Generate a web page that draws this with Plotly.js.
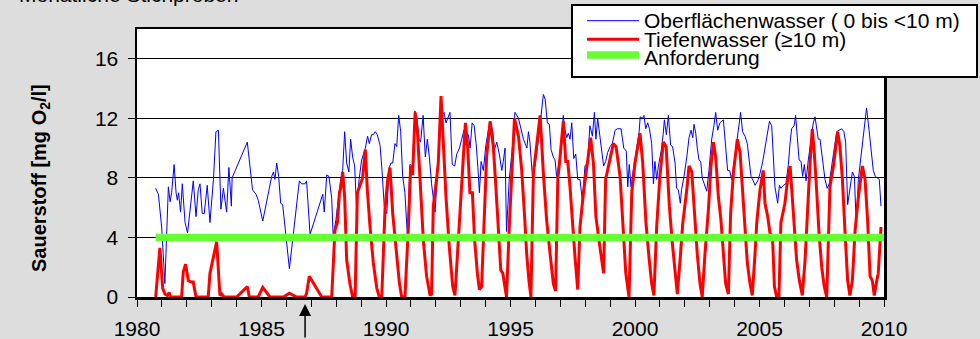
<!DOCTYPE html>
<html><head><meta charset="utf-8">
<script src="https://cdn.plot.ly/plotly-3.0.1.min.js"></script>
<style>html,body{margin:0;padding:0;background:#dddddd;}#chart{width:980px;height:339px;}</style>
</head><body><div id="chart"></div>
<script>
// Oberflächenwasser (0 bis <10 m)
const blueX = [1980.75,1980.86,1980.99,1981.12,1981.26,1981.33,1981.39,1981.49,1981.57,1981.62,1981.67,1981.75,1981.82,1981.93,1982.03,1982.16,1982.26,1982.37,1982.46,1982.53,1982.62,1982.70,1982.82,1982.93,1983.07,1983.17,1983.27,1983.37,1983.47,1983.60,1983.69,1983.79,1983.82,1984.43,1984.54,1984.64,1984.78,1984.87,1985.05,1985.41,1985.48,1985.54,1985.61,1985.69,1985.77,1985.85,1986.12,1986.28,1986.52,1986.61,1986.75,1986.81,1986.95,1987.46,1987.52,1987.62,1987.71,1987.82,1987.88,1987.99,1988.08,1988.18,1988.26,1988.34,1988.42,1988.51,1988.58,1988.66,1988.74,1988.82,1988.92,1989.02,1989.17,1989.26,1989.33,1989.42,1989.49,1989.57,1989.65,1989.76,1989.84,1989.93,1990.03,1990.13,1990.20,1990.27,1990.36,1990.43,1990.51,1990.59,1990.67,1990.76,1990.86,1990.96,1991.07,1991.16,1991.23,1991.33,1991.39,1991.49,1991.58,1991.66,1991.74,1991.83,1991.97,1992.03,1992.14,1992.23,1992.33,1992.41,1992.49,1992.57,1992.66,1992.76,1992.84,1992.95,1993.04,1993.13,1993.21,1993.31,1993.38,1993.46,1993.54,1993.62,1993.69,1993.75,1993.82,1993.91,1994.01,1994.11,1994.21,1994.29,1994.35,1994.45,1994.55,1994.65,1994.71,1994.78,1994.84,1994.95,1995.08,1995.18,1995.32,1995.42,1995.52,1995.61,1995.66,1995.72,1995.78,1995.88,1995.98,1996.09,1996.23,1996.32,1996.39,1996.48,1996.56,1996.63,1996.72,1996.79,1996.85,1996.95,1997.06,1997.12,1997.19,1997.26,1997.32,1997.39,1997.46,1997.54,1997.62,1997.70,1997.79,1997.89,1997.99,1998.09,1998.19,1998.29,1998.37,1998.43,1998.50,1998.58,1998.66,1998.74,1998.82,1998.90,1999.00,1999.09,1999.20,1999.29,1999.44,1999.55,1999.65,1999.71,1999.77,1999.84,1999.93,2000.07,2000.16,2000.21,2000.30,2000.36,2000.43,2000.51,2000.58,2000.67,2000.74,2000.80,2000.87,2000.94,2001.05,2001.13,2001.18,2001.26,2001.34,2001.43,2001.51,2001.61,2001.67,2001.74,2001.82,2001.87,2001.97,2002.08,2002.17,2002.25,2002.32,2002.37,2002.44,2002.50,2002.57,2002.64,2002.70,2002.78,2002.88,2002.97,2003.08,2003.17,2003.24,2003.32,2003.41,2003.55,2003.64,2003.72,2003.80,2003.88,2003.98,2004.08,2004.15,2004.24,2004.32,2004.42,2004.51,2004.59,2004.66,2004.75,2004.82,2004.93,2005.02,2005.13,2005.22,2005.33,2005.40,2005.49,2005.57,2005.62,2005.73,2005.80,2005.86,2005.96,2006.06,2006.16,2006.23,2006.29,2006.39,2006.45,2006.52,2006.59,2006.67,2006.73,2006.80,2006.87,2006.96,2007.07,2007.16,2007.23,2007.30,2007.36,2007.43,2007.54,2007.63,2007.72,2007.80,2007.90,2008.01,2008.10,2008.19,2008.30,2008.39,2008.46,2008.54,2008.63,2008.73,2008.81,2008.89,2008.97,2009.06,2009.17,2009.24,2009.30,2009.40,2009.48,2009.57,2009.65,2009.74,2009.81,2009.88];
const blueY = [7.3,6.9,4.7,0.9,7.4,6.4,7.0,8.9,7.0,6.5,7.0,5.7,7.6,5.0,4.3,6.5,7.8,5.4,7.2,7.6,5.6,5.6,7.5,5.0,7.9,11.1,11.2,5.9,7.3,5.7,8.7,6.1,8.0,10.4,8.8,7.2,6.9,6.5,5.1,8.1,8.4,7.9,9.0,8.1,6.3,6.2,1.9,4.2,7.8,7.6,7.6,7.8,4.2,6.9,5.7,8.2,8.1,6.6,4.0,5.2,6.5,7.9,8.5,11.1,9.0,8.4,10.6,9.4,8.8,5.9,7.9,9.2,10.0,10.8,10.3,10.9,10.9,11.1,10.9,10.2,8.5,6.1,5.6,8.7,9.0,9.0,10.3,10.1,12.2,11.1,8.1,7.0,4.1,8.9,8.8,12.5,12.1,10.6,10.4,12.2,9.4,10.6,9.4,7.6,5.7,7.4,10.3,12.1,12.4,11.7,12.0,12.4,8.9,8.8,9.6,10.0,10.6,11.2,10.2,10.9,10.0,11.7,11.5,10.3,8.7,7.0,9.1,8.5,10.2,11.2,11.7,11.1,9.9,10.4,9.6,8.5,9.1,10.0,4.4,7.9,10.1,12.4,12.0,11.2,10.6,10.2,10.0,11.1,10.4,8.1,8.8,10.1,12.4,13.6,13.3,11.7,11.6,9.9,9.4,9.2,8.1,9.0,10.8,12.2,11.2,10.7,11.0,10.6,11.7,9.3,9.6,7.9,7.9,6.4,8.8,9.0,11.5,10.8,12.4,10.6,12.0,11.0,10.1,8.8,9.1,9.7,10.1,10.3,11.2,11.3,11.3,10.0,9.8,7.4,8.9,7.4,8.5,9.9,11.0,12.1,12.0,12.2,11.3,11.7,11.3,10.3,7.6,9.1,7.9,8.8,9.8,10.9,11.9,10.9,12.2,10.2,10.1,9.0,7.3,7.2,6.3,7.2,8.1,9.4,10.7,11.2,10.7,11.6,11.0,10.0,9.2,9.1,8.0,7.6,7.1,8.5,10.6,11.5,12.4,11.2,11.7,11.9,9.9,8.5,8.5,7.9,9.0,10.3,11.1,12.4,11.1,10.8,10.3,9.0,8.1,7.8,7.5,7.8,8.3,9.1,10.1,11.1,11.8,11.5,9.0,7.4,6.3,7.5,7.3,7.5,7.6,8.9,10.4,11.3,11.5,12.2,10.7,9.2,9.1,8.1,8.9,7.8,9.2,10.7,11.7,12.1,11.2,10.6,10.6,9.2,7.9,7.3,7.6,8.8,10.1,11.1,11.2,11.3,11.1,10.4,6.2,7.4,8.4,8.1,4.7,7.9,9.1,10.6,11.5,12.7,11.2,10.0,8.5,8.1,8.0,7.9,6.1];

// Tiefenwasser (>=10 m)
const redX = [1980.75,1980.92,1981.03,1981.12,1981.22,1981.29,1981.35,1981.79,1981.86,1981.95,1982.06,1982.16,1982.26,1982.37,1982.86,1982.93,1983.20,1983.33,1983.40,1983.49,1984.00,1984.43,1984.51,1984.87,1985.05,1985.34,1985.88,1986.12,1986.41,1986.75,1986.81,1986.92,1987.42,1987.82,1987.95,1988.05,1988.13,1988.19,1988.26,1988.34,1988.42,1988.55,1988.66,1988.76,1988.85,1988.96,1989.06,1989.17,1989.25,1989.36,1989.49,1989.63,1989.73,1989.83,1989.96,1990.07,1990.16,1990.27,1990.40,1990.54,1990.63,1990.76,1990.90,1990.99,1991.07,1991.17,1991.26,1991.37,1991.50,1991.63,1991.77,1991.83,1991.90,1992.03,1992.10,1992.21,1992.30,1992.41,1992.54,1992.68,1992.77,1992.95,1993.08,1993.19,1993.28,1993.37,1993.47,1993.56,1993.67,1993.75,1993.84,1993.94,1994.04,1994.18,1994.31,1994.42,1994.51,1994.61,1994.69,1994.79,1994.84,1994.95,1995.05,1995.16,1995.32,1995.45,1995.56,1995.65,1995.74,1995.82,1995.92,1996.05,1996.19,1996.32,1996.45,1996.59,1996.72,1996.81,1996.90,1996.99,1997.12,1997.22,1997.30,1997.39,1997.48,1997.59,1997.70,1997.79,1997.93,1998.09,1998.22,1998.33,1998.43,1998.57,1998.66,1998.74,1998.82,1998.96,1999.13,1999.24,1999.40,1999.51,1999.63,1999.76,1999.87,2000.00,2000.20,2000.31,2000.44,2000.56,2000.67,2000.76,2000.87,2001.00,2001.14,2001.25,2001.38,2001.50,2001.61,2001.70,2001.81,2001.92,2002.08,2002.17,2002.28,2002.41,2002.50,2002.61,2002.70,2002.81,2002.95,2003.05,2003.15,2003.24,2003.35,2003.45,2003.55,2003.64,2003.75,2003.84,2003.95,2004.11,2004.22,2004.31,2004.42,2004.51,2004.62,2004.71,2004.82,2004.89,2005.02,2005.15,2005.22,2005.33,2005.42,2005.52,2005.60,2005.69,2005.78,2005.86,2006.02,2006.13,2006.23,2006.32,2006.40,2006.49,2006.60,2006.72,2006.83,2006.93,2007.03,2007.12,2007.20,2007.30,2007.39,2007.50,2007.60,2007.70,2007.83,2007.97,2008.14,2008.23,2008.33,2008.43,2008.54,2008.63,2008.73,2008.84,2008.97,2009.13,2009.24,2009.34,2009.44,2009.53,2009.61,2009.71,2009.77,2009.88];
const redY = [0,3.3,0.6,0.2,0.1,0.3,0,0,1.7,2.2,1.1,1.0,1.0,0,0,1.6,3.7,0.1,0.2,0,0,0.7,0,0,0.65,0,0,0.25,0,0,0.25,1.4,0,0,4.5,5.0,7.0,7.4,8.4,6.7,2.5,0.9,0,0,7.0,7.6,8.0,9.9,7.2,4.7,2.3,0.6,0,0,5.9,7.9,8.7,5.6,3.2,0.9,0,0,4.7,8.8,8.2,12.4,11.2,7.9,3.8,1.4,0.1,0.2,6.1,7.9,9.0,13.5,10.1,6.7,3.4,0.7,0.1,5.2,9.2,11.7,10.1,7.0,7.0,3.8,1.6,0.5,0.7,4.7,9.4,11.8,10.1,7.2,4.3,1.8,1.6,0.5,0,4.7,7.9,12.0,10.8,8.5,5.6,2.9,1.1,0,8.3,10.1,12.2,8.3,5.2,2.9,0.9,0.4,7.9,9.4,11.8,9.1,9.1,7.4,5.0,2.7,0.5,4.7,7.0,9.0,10.7,9.0,5.4,3.6,2.5,1.6,7.9,9.0,10.3,10.1,8.1,5.0,1.6,0,7.0,9.0,11.0,9.0,5.0,2.7,0.9,0.1,4.7,8.1,10.4,10.1,6.1,3.6,1.6,0.2,2.5,5.0,7.2,8.8,8.4,4.7,2.9,0.9,0,2.9,5.9,8.8,10.4,9.4,6.7,5.2,3.2,0.9,0.2,5.6,8.3,10.6,9.7,7.4,4.5,2.3,0.9,0.1,2.9,5.0,7.2,8.5,6.3,5.4,4.3,4.1,0.7,0,0,5.0,6.3,7.9,8.8,6.7,4.5,2.5,1.1,0.1,2.5,6.3,9.0,11.3,9.7,7.0,4.3,2.0,0.7,0,7.4,8.8,11.1,10.1,7.9,4.5,1.1,0.1,1.1,4.5,6.7,8.8,7.9,5.2,1.4,1.1,0.1,1.1,1.6,4.7];

// Anforderung
const reqX = [1980.75, 2010.03];
const reqY = [4, 4];

const yTickVals = [0, 4, 8, 12, 16];
const xTickVals = [1980,1981,1982,1983,1984,1985,1986,1987,1988,1989,1990,1991,1992,1993,1994,1995,1996,1997,1998,1999,2000,2001,2002,2003,2004,2005,2006,2007,2008,2009,2010];
const xTickText = xTickVals.map(v => v % 5 === 0 ? String(v) : '');

const seriesNames = ['Oberflächenwasser ( 0 bis <10 m)', 'Tiefenwasser (≥10 m)', 'Anforderung'];
const seriesColors = ['#0000ff', '#ff0000', '#66ff33'];
const seriesWidths = [1, 3, 7.5];
const noteText = 'Monatliche Stichproben';
const yTitle = '<b>Sauerstoff [mg O<sub>2</sub>/l]</b>';
const arrowYear = 1986.75;

const FONT = 'Arial, "Liberation Sans", sans-serif';

const traces = seriesNames.map((nm, i) => ({
  x: [blueX, redX, reqX][i], y: [blueY, redY, reqY][i], name: nm,
  type: 'scatter', mode: 'lines', showlegend: false,
  line: {color: seriesColors[i], width: seriesWidths[i]}
}));

// hand-built legend box (paper coordinates)
const legBox = {x0: 0.5823, x1: 1.1245, y0: 0.8209, y1: 1.0896};
const legLineY = [1.0310, 0.9616, 0.9030];
const legTextY = [1.0330, 0.9610, 0.8930];
const legLineX = [0.6024, 0.6720];
const legTextX = 0.6770;

const shapes = [
  {type: 'rect', xref: 'paper', yref: 'paper', layer: 'above',
   x0: legBox.x0, x1: legBox.x1, y0: legBox.y0, y1: legBox.y1,
   fillcolor: '#ffffff', line: {color: '#000000', width: 2}}
].concat(seriesNames.map((nm, i) => ({
   type: 'line', xref: 'paper', yref: 'paper', layer: 'above',
   x0: legLineX[0], x1: legLineX[1], y0: legLineY[i], y1: legLineY[i],
   line: {color: seriesColors[i], width: seriesWidths[i]}
})));

const legendAnn = seriesNames.map((nm, i) => ({
  text: nm, xref: 'paper', yref: 'paper', x: legTextX, y: legTextY[i],
  xanchor: 'left', yanchor: 'middle', showarrow: false, borderpad: 0,
  font: {family: FONT, size: 21, color: '#000000'}
}));

const layout = {
  width: 980, height: 339,
  paper_bgcolor: '#dddddd', plot_bgcolor: '#ffffff',
  margin: {l: 137, r: 96, t: 29, b: 42, pad: 0},
  font: {family: FONT, size: 21, color: '#000000'},
  showlegend: false,
  xaxis: {range: [1980, 2010], tickmode: 'array', tickvals: xTickVals, ticktext: xTickText,
    ticks: 'outside', ticklen: 7, tickwidth: 1, tickcolor: '#000000',
    showline: true, linecolor: '#000000', linewidth: 2.5, mirror: true,
    showgrid: false, zeroline: false, ticklabelstandoff: 4,
    tickfont: {family: FONT, size: 21, color: '#000000'}},
  yaxis: {range: [0, 18], tickmode: 'array', tickvals: yTickVals,
    ticks: 'outside', ticklen: 7, tickwidth: 1, tickcolor: '#000000',
    showline: true, linecolor: '#000000', linewidth: 2.5, mirror: true,
    showgrid: true, gridcolor: '#000000', gridwidth: 1, zeroline: false,
    ticklabelstandoff: 5,
    tickfont: {family: FONT, size: 21, color: '#000000'}},
  shapes: shapes,
  annotations: [
    {text: yTitle, xref: 'paper', yref: 'paper', x: -0.1298, y: 0.444,
     xanchor: 'center', yanchor: 'middle', textangle: -90, showarrow: false,
     font: {family: FONT, size: 20, color: '#000000'}},
    {text: noteText, xref: 'paper', yref: 'paper', x: -0.160, y: 1.0800,
     xanchor: 'left', yanchor: 'bottom', showarrow: false,
     font: {family: FONT, size: 21, color: '#000000'}},
    {text: '', xref: 'x', yref: 'paper', x: arrowYear, y: -0.026,
     showarrow: true, arrowhead: 2, arrowsize: 1.6, arrowwidth: 1.5, arrowcolor: '#000000',
     ax: 0, ay: 42}
  ].concat(legendAnn)
};

Plotly.newPlot('chart', traces, layout, {staticPlot: true, displayModeBar: false});
</script></body></html>
